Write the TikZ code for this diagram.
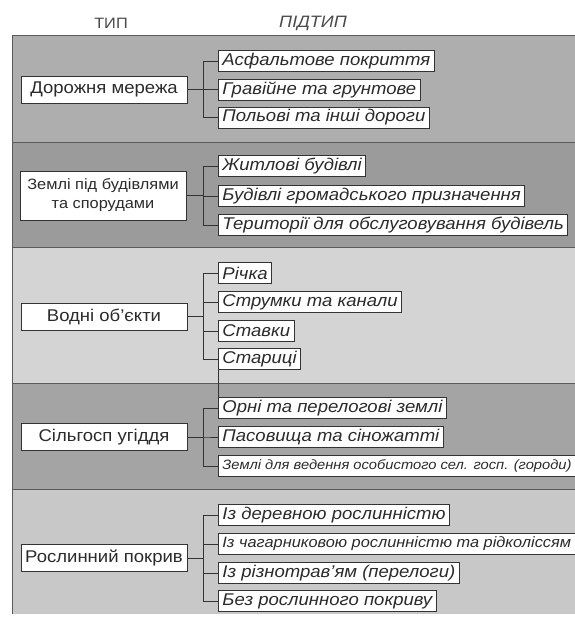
\documentclass[tikz,border=0pt]{standalone}
\usepackage{fontspec}
\setmainfont{Liberation Sans}[FakeStretch=1.09]
\usetikzlibrary{calc}

\definecolor{ink}{HTML}{2B2B2B}
\definecolor{headink}{HTML}{4A4A4A}
\definecolor{boxline}{HTML}{333333}
\definecolor{edge}{HTML}{5A5A5A}
\definecolor{roadband}{HTML}{AEAEAE}
\definecolor{buildband}{HTML}{9B9B9B}
\definecolor{waterband}{HTML}{D4D4D4}
\definecolor{agriband}{HTML}{A4A4A4}
\definecolor{vegband}{HTML}{C8C8C8}

\begin{document}
\begin{tikzpicture}[x=1pt, y=-1pt,
  typebox/.style={rectangle, draw=boxline, fill=white, line width=0.9pt, minimum width=166pt, minimum height=27pt, text=ink, font=\fontsize{17}{19}\selectfont, align=center},
  subbox/.style={rectangle, draw=boxline, fill=white, line width=0.9pt, minimum height=21pt, inner xsep=4pt, inner ysep=0pt, text=ink, font=\fontsize{17}{19}\selectfont\itshape, anchor=west},
  link/.style={draw=boxline, line width=0.8pt},
  band/.style={draw=edge, line width=0.8pt}]
\useasboundingbox (0,0) rectangle (575,619);

% bands
\fill[roadband] (12,35) rectangle (576,142);
\fill[buildband] (12,142) rectangle (576,247);
\fill[waterband] (12,247) rectangle (576,383);
\fill[agriband] (12,383) rectangle (576,489);
\fill[vegband] (12,489) rectangle (576,614);
\draw[band] (576,35) -- (12,35) -- (12,614);
\foreach \y in {142,247,383,489}
  \draw[band] (12,\y) -- (576,\y);

% column heads
\node[text=headink, font=\fontsize{15}{17}\selectfont] (typehead) at (111,23) {ТИП};
\node[text=headink, font=\fontsize{16.5}{18}\selectfont\itshape] (subhead) at (313,23) {ПІДТИП};

% types
\node[typebox] (road) at (104,89.5) {Дорожня мережа};
\node[typebox, minimum height=49pt, inner xsep=3pt, font=\fontsize{15}{19}\selectfont] (build) at (103,195.5) {Землі під будівлями\\та спорудами};
\node[typebox] (water) at (104,316.5) {Водні об’єкти};
\node[typebox] (agri) at (104,437) {Сільгосп угіддя};
\node[typebox] (veg) at (104,558) {Рослинний покрив};

% subtypes
\node[subbox] (road1) at (218,61) {Асфальтове покриття};
\node[subbox] (road2) at (218,89.5) {Гравійне та грунтове};
\node[subbox] (road3) at (218,117.5) {Польові та інші дороги};

\node[subbox] (build1) at (218,166) {Житлові будівлі};
\node[subbox] (build2) at (218,196) {Будівлі громадського призначення};
\node[subbox] (build3) at (218,225) {Території для обслуговування будівель};

\node[subbox] (water1) at (218,273) {Річка};
\node[subbox] (water2) at (218,302) {Струмки та канали};
\node[subbox] (water3) at (218,331) {Ставки};
\node[subbox] (water4) at (218,359) {Стариці};

\node[subbox] (agri1) at (218,408) {Орні та перелогові землі};
\node[subbox] (agri2) at (218,437) {Пасовища та сіножатті};
\node[subbox, font=\fontsize{13.5}{15}\selectfont\itshape] (agri3) at (218,466) {Землі для ведення особистого сел. госп. (городи)};

\node[subbox] (veg1) at (218,515) {Із деревною рослинністю};
\node[subbox, font=\fontsize{15}{17}\selectfont\itshape] (veg2) at (218,544) {Із чагарниковою рослинністю та рідколіссям};
\node[subbox] (veg3) at (218,573) {Із різнотрав’ям (перелоги)};
\node[subbox] (veg4) at (218,601) {Без рослинного покриву};

% links
\foreach \s in {road1,road2,road3}
  \draw[link] (road.east) -- ++(16,0) |- (\s.west);
\foreach \s in {build1,build2,build3}
  \draw[link] (build.east) -- ++(17,0) |- (\s.west);
\foreach \s in {water1,water2,water3,water4}
  \draw[link] (water.east) -- ++(16,0) |- (\s.west);
\foreach \s in {agri1,agri2,agri3}
  \draw[link] (agri.east) -- ++(16,0) |- (\s.west);
\foreach \s in {veg1,veg2,veg3,veg4}
  \draw[link] (veg.east) -- ++(16,0) |- (\s.west);
\draw[link] (water4.south west) -- (agri1.north west);
\end{tikzpicture}
\end{document}
